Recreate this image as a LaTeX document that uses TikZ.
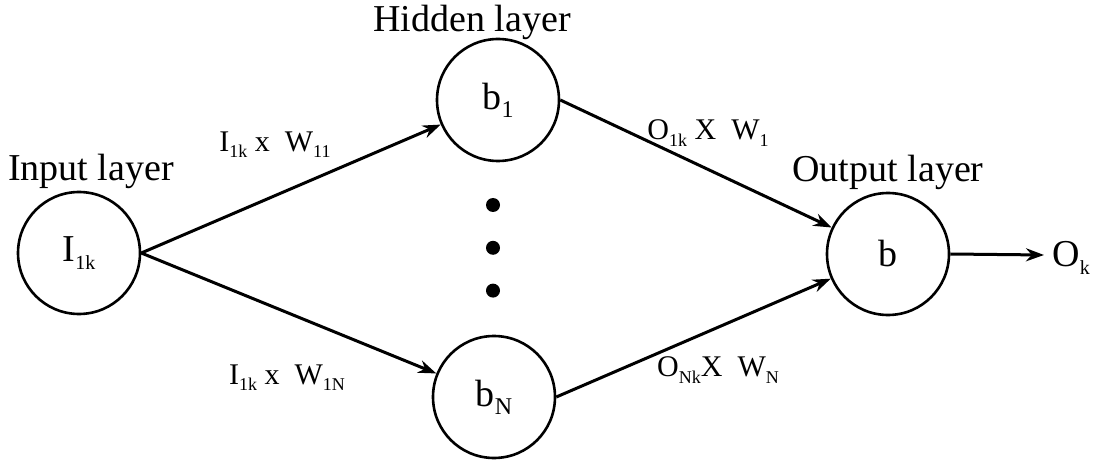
\documentclass[tikz,border=0pt]{standalone}
\usepackage{fontspec}
\setmainfont{Liberation Serif}
\usetikzlibrary{arrows.meta,positioning}

% small lowered subscripts as in the scanned figure
\newcommand{\lsub}[2][10]{\raisebox{-0.45ex}{\fontsize{#1}{#1}\selectfont #2}}

\begin{document}
\begin{tikzpicture}[
    x=0.5pt, y=-0.5pt,
    neuron/.style={circle, draw, line width=1.3pt, minimum size=61pt, inner sep=0pt, font=\fontsize{19}{22}\selectfont},
    layername/.style={font=\fontsize{19}{22}\selectfont, inner sep=1pt},
    weight/.style={font=\fontsize{15}{18}\selectfont, inner sep=0pt},
    arrow/.style={-{Stealth[length=9pt, width=6.5pt]}, line width=1.5pt},
    dot/.style={circle, fill, inner sep=0pt, minimum size=7pt}
]
\useasboundingbox (0,0) rectangle (1120,460);

% Neurons
\node[neuron, label={[layername, xshift=6pt]above:Input layer}] (inp) at (79,253) {I\lsub{1k}};
\node[neuron, label={[layername, xshift=-13pt, inner sep=0pt, label distance=-1pt]above:Hidden layer}] (hid1) at (498,100) {b\lsub[12]{1}};
\node[neuron] (hidN) at (494,397) {b\lsub[12]{N}};
\node[neuron, label={[layername]above:Output layer}] (out) at (888,254) {b};

% Dots between hidden neurons
\node[dot] (dot1) at (493,205) {};
\node[dot, below=14pt of dot1] (dot2) {};
\node[dot, below=14pt of dot2] (dot3) {};

% Weight labels
\node[weight] (w11) at (275,145) {I\lsub[9]{1k} x \ W\lsub[9]{11}};
\node[weight] (w1N) at (287,378) {I\lsub[9]{1k} x \ W\lsub[9]{1N}};
\node[weight] (o1) at (708,133) {O\lsub[9]{1k} X \ W\lsub[9]{1}};
\node[weight] (oN) at (718,370) {O\lsub[9]{Nk}X \ W\lsub[9]{N}};

% Output
\coordinate (okend) at (1044,255);
\node[font=\fontsize{19}{22}\selectfont, anchor=west, inner sep=0pt] (ok) at (1052,258) {O\lsub[10]{k}};

% Arrows
\draw[arrow] (inp.east) -- (hid1);
\draw[arrow] (inp.east) -- (hidN);
\draw[arrow] (hid1.east) -- (out);
\draw[arrow] (hidN.east) -- (out);
\draw[arrow] (out.east) -- (okend);

\end{tikzpicture}
\end{document}
